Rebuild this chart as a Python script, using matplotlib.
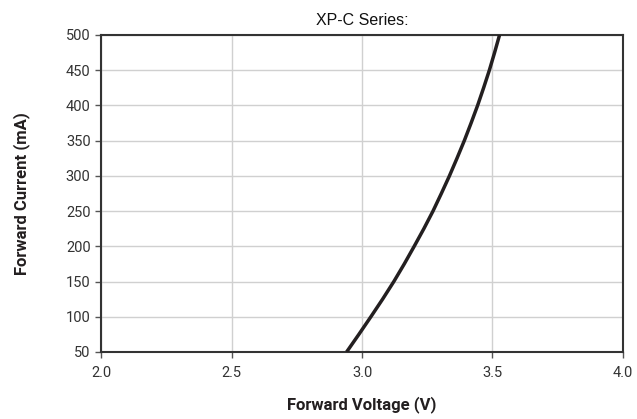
import numpy as np
import matplotlib.pyplot as plt

# forward current (mA) vs forward voltage (V)
current = [50, 75, 100, 125, 150, 175, 200, 225, 250, 275,
           300, 325, 350, 375, 400, 425, 450, 475, 500]
voltage = [2.941, 2.988, 3.034, 3.079, 3.122, 3.162, 3.200, 3.237, 3.272, 3.304,
           3.335, 3.364, 3.392, 3.418, 3.443, 3.466, 3.488, 3.508, 3.527]

x_ticks = [2.0, 2.5, 3.0, 3.5, 4.0]
y_ticks = [50, 100, 150, 200, 250, 300, 350, 400, 450, 500]

fig = plt.figure(figsize=(6.37, 4.19), dpi=100)
ax = fig.add_axes([0.1586, 0.160, 0.8194, 0.7565])

ax.plot(voltage, current, color='#231f20', linewidth=2.5, solid_capstyle='butt',
        solid_joinstyle='round', zorder=3)

ax.set_xlim(2.0, 4.0)
ax.set_ylim(50, 500)
ax.set_xticks(x_ticks)
ax.set_xticklabels(['%.1f' % v for v in x_ticks])
ax.set_yticks(y_ticks)
ax.grid(True, color='#d0d0d0', linewidth=1.0)
ax.set_axisbelow(True)

for s in ax.spines.values():
    s.set_color('#333333')
    s.set_linewidth(1.5)

ax.tick_params(axis='both', direction='out', length=4, width=1, color='#555555',
               labelcolor='#333333', labelsize=10.5)
ax.tick_params(axis='x', pad=6)
for lab in ax.get_xticklabels() + ax.get_yticklabels():
    lab.set_family('Roboto')

ax.set_xlabel('Forward Voltage (V)', family='Roboto', fontweight='bold', fontsize=12,
              color='#231f20', labelpad=12)
ax.set_ylabel('Forward Current (mA)', family='Roboto', fontweight='bold', fontsize=12,
              color='#231f20', labelpad=26)
ax.set_title('XP-C Series:', family='Liberation Sans', fontsize=11.5, color='#111111', pad=7)

fig.savefig('out.png', dpi=100)
